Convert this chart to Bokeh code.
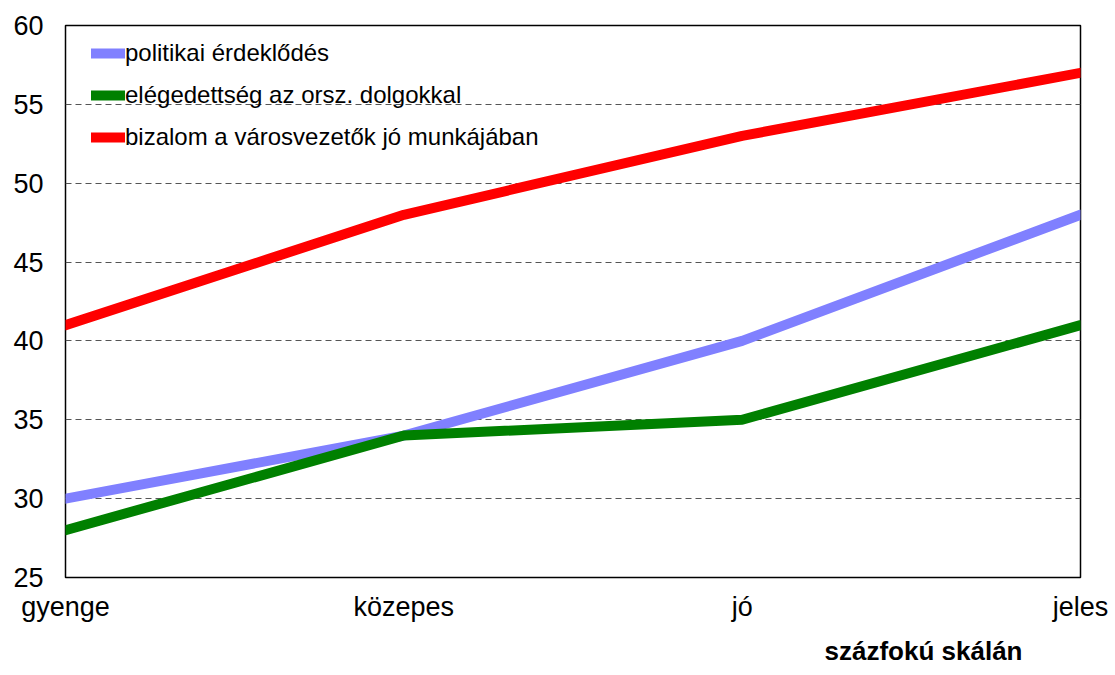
from bokeh.plotting import figure
from bokeh.models import FixedTicker, Legend, LegendItem, Title, Range1d
from bokeh.embed import file_html
from bokeh.resources import INLINE

categories = ["gyenge", "közepes", "jó", "jeles"]
politikai = [30, 34, 40, 48]
elegedettseg = [28, 34, 35, 41]
bizalom = [41, 48, 53, 57]
series_names = ["politikai érdeklődés", "elégedettség az orsz. dolgokkal",
                "bizalom a városvezetők jó munkájában"]
colors = ["#8080FF", "#008000", "#FF0000"]
y_ticks = [25, 30, 35, 40, 45, 50, 55, 60]
x_axis_title = "százfokú skálán"

xs = list(range(len(categories)))

p = figure(width=1112, height=675, output_backend="svg", toolbar_location=None,
           x_range=Range1d(0, len(categories) - 1), y_range=Range1d(25, 60),
           min_border_left=65, min_border_right=32, min_border_top=25,
           min_border_bottom=98)
p.background_fill_color = "white"
p.border_fill_color = "white"
p.outline_line_color = "black"
p.outline_line_width = 1.5

renderers = []
for vals, c in zip([politikai, elegedettseg, bizalom], colors):
    r = p.line(xs, vals, line_color=c, line_width=10, line_cap="round", line_join="round")
    renderers.append(r)

legend = Legend(items=[LegendItem(label=n, renderers=[r]) for n, r in zip(series_names, renderers)],
                location=(26, 425), margin=0, padding=0, spacing=12,
                glyph_width=34, glyph_height=30, label_height=30, label_standoff=0,
                label_text_font="Liberation Sans", label_text_font_size="24px",
                label_text_color="black",
                background_fill_alpha=0, border_line_color=None)
p.add_layout(legend, "center")

p.xaxis.ticker = FixedTicker(ticks=xs)
p.xaxis.major_label_overrides = {i: c for i, c in enumerate(categories)}
p.yaxis.ticker = FixedTicker(ticks=y_ticks)
for ax in [p.xaxis[0], p.yaxis[0]]:
    ax.axis_line_color = None
    ax.major_tick_line_color = None
    ax.minor_tick_line_color = None
    ax.major_tick_out = 0
    ax.major_tick_in = 0
    ax.major_label_text_font = "Liberation Sans"
    ax.major_label_text_font_size = "27px"
    ax.major_label_text_color = "black"
p.yaxis.major_label_standoff = 22
p.xaxis.major_label_standoff = 14

p.xgrid.grid_line_color = None
p.ygrid.ticker = FixedTicker(ticks=[30, 35, 40, 45, 50, 55])
p.ygrid.grid_line_color = "#555555"
p.ygrid.grid_line_dash = "6 4"
p.ygrid.grid_line_width = 1

p.add_layout(Title(text=x_axis_title, align="right", offset=58, standoff=19,
                   text_font="Liberation Sans", text_font_size="26px",
                   text_font_style="bold", text_color="black"), "below")

open("out.html", "w").write(file_html(p, INLINE))
